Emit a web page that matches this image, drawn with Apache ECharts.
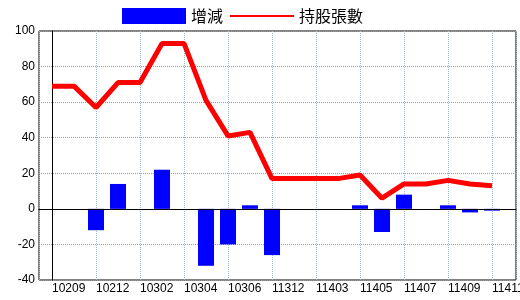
<!DOCTYPE html>
<html>
<head>
<meta charset="utf-8">
<script src="https://cdn.jsdelivr.net/npm/echarts@6/dist/echarts.min.js"></script>
<style>
html,body{margin:0;padding:0;background:#fff;}
#chart{width:520px;height:300px;}
</style>
</head>
<body>
<div id="chart"></div>
<script>
// Period labels (ROC year + month)
const categories = ['10209','10210','10212','10301','10302','10303','10304','10305','10306','10307',
  '11312','11401','11403','11404','11405','11406','11407','11408','11409','11410','11411'];
// 增減 (change)
const changeValues = [0,0,-12,14,0,22,0,-32,-20,2,-26,0,0,0,2,-13,8,0,2,-2,-1];
// 持股張數 (holdings)
const holdValues = [69,69,57,71,71,93,93,61,41,43,17,17,17,17,19,6,14,14,16,14,13];
const yTicks = {min:-40, max:100, interval:20};

const barData = changeValues.map((v,i)=>[i,v]);
const lineData = holdValues.map((v,i)=>[i,v]);

const chart = echarts.init(document.getElementById('chart'), null, {renderer:'canvas'});
const numFont = '"Liberation Sans",Arial,sans-serif';
chart.setOption({
  animation:false,
  backgroundColor:'#fff',
  legend:{
    left:122, top:8, padding:0,
    itemWidth:64, itemHeight:16, itemGap:7,
    textStyle:{fontFamily:'"Noto Sans CJK TC",sans-serif', fontSize:16, color:'#000'},
    data:[
      {name:'增減', icon:'rect'},
      {name:'持股張數', icon:'path://M0 0H64V2H0Z', itemStyle:{color:'#ff0000'}}
    ]
  },
  grid:{left:39, right:4, top:31, bottom:20, outerBoundsMode:'none', containLabel:false,
    show:true, borderColor:'#000', borderWidth:1, backgroundColor:'transparent'},
  xAxis:{
    type:'value',
    min:-13/22, max:-13/22 + 477/22,
    minInterval:2, maxInterval:2, splitNumber:10,
    axisLine:{show:true, lineStyle:{color:'#000'}},
    axisTick:{show:false},
    splitLine:{show:true, lineStyle:{color:'#9fbccc', type:[1,1], width:1}},
    axisLabel:{
      color:'#000', fontFamily:numFont, fontSize:12, align:'left', margin:3,
      formatter:function(v){ return (Number.isInteger(v) && categories[v]!==undefined) ? categories[v] : ''; }
    }
  },
  yAxis:{
    type:'value', min:yTicks.min, max:yTicks.max, interval:yTicks.interval,
    axisLine:{show:true, lineStyle:{color:'#000'}},
    axisTick:{show:false},
    splitLine:{show:true, lineStyle:{color:'#999', type:[1,1], width:1}},
    axisLabel:{color:'#000', fontFamily:numFont, fontSize:12, margin:4}
  },
  series:[
    {
      name:'增減', type:'bar', data:barData, barWidth:16,
      itemStyle:{color:'#0000ff'},
      markLine:{silent:true, symbol:'none', label:{show:false},
        lineStyle:{color:'#000', type:'solid', width:1},
        data:[{yAxis:0}]}
    },
    {
      name:'持股張數', type:'line', data:lineData, showSymbol:false, symbol:'none',
      lineStyle:{color:'#ff0000', width:5}, itemStyle:{color:'#ff0000'}
    }
  ]
});
</script>
</body>
</html>
